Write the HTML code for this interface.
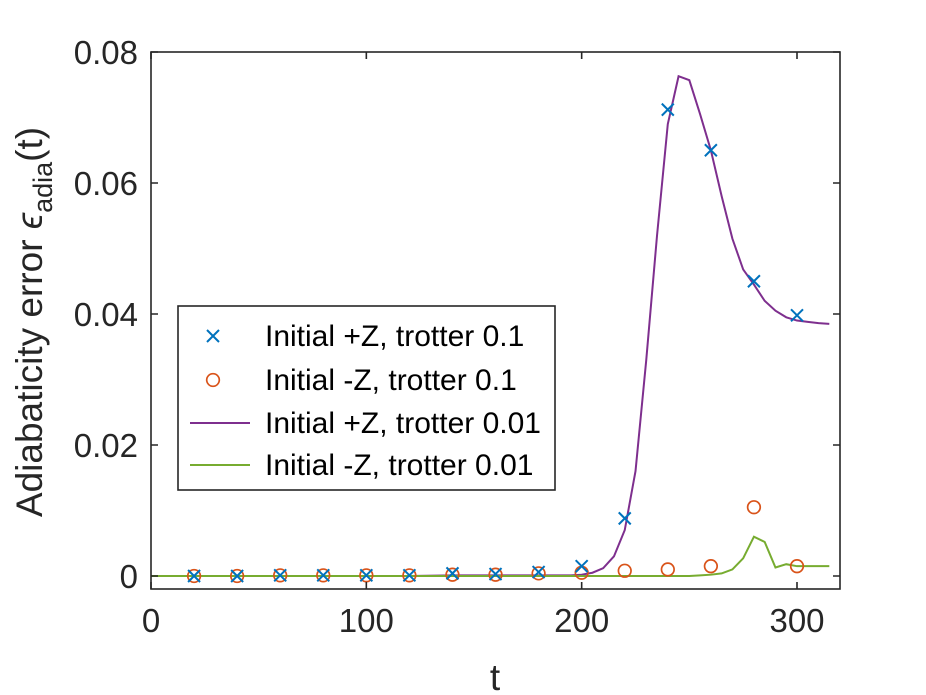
<!DOCTYPE html>
<html><head><meta charset="utf-8"><style>
html,body{margin:0;padding:0;background:#fff;}
svg{display:block;font-family:"Liberation Sans",sans-serif;}
</style></head><body>
<svg id="chart" width="926" height="695" viewBox="0 0 926 695">
<rect width="926" height="695" fill="#fff"/>
<g id="plot"></g>
<g id="axes"></g>
</svg>
<script>
const xTicks=[0,100,200,300];
const yTicks=[0,0.02,0.04,0.06,0.08];
const yTickLabels=["0","0.02","0.04","0.06","0.08"];
const markerT=[20,40,60,80,100,120,140,160,180,200,220,240,260,280,300];
const plusZ01=[0,0,0.0001,0.0001,0.0001,0.0001,0.0004,0.0003,0.0006,0.0015,0.0088,0.0712,0.065,0.045,0.0398];
const minusZ01=[0,0,0.0001,0.0001,0.0001,0.0001,0.0002,0.0002,0.0004,0.0005,0.0008,0.001,0.0015,0.0105,0.0015];
const lineT=[0,20,40,60,80,100,120,140,160,180,195,200,205,210,215,220,225,230,235,240,245,250,255,260,265,270,275,280,285,290,295,300,305,310,315];
const plusZ001=[0,0,0,0,0,0,0,0.0001,0.0001,0.0001,0.0001,0.0002,0.0005,0.0012,0.003,0.007,0.016,0.033,0.052,0.069,0.0763,0.0757,0.0705,0.065,0.058,0.0515,0.0468,0.0445,0.042,0.0405,0.0395,0.039,0.0388,0.0386,0.0385];
const minusZ001=[0,0,0,0,0,0,0,0,0,0,0,0,0,0,0,0,0,0,0,0,0,0,0.0001,0.0002,0.0004,0.001,0.0027,0.006,0.0052,0.0013,0.0018,0.0015,0.0015,0.0015,0.0015];

const L=151,R=840,T=52,B=589;
const x=v=>L+(v-0)*(797-L)/300;
const y=v=>576-v*131/0.02;
const NS="http://www.w3.org/2000/svg";
function mk(tag,attrs,parent){const e=document.createElementNS(NS,tag);for(const k in attrs)e.setAttribute(k,attrs[k]);parent.appendChild(e);return e;}
const plot=document.getElementById('plot'), axes=document.getElementById('axes');

let p1=mk('polyline',{points:lineT.map((t,i)=>x(t)+','+y(plusZ001[i])).join(' '),fill:'none',stroke:'#7E2F8E','stroke-width':2},plot);


let p2=mk('polyline',{points:lineT.map((t,i)=>x(t)+','+y(minusZ001[i])).join(' '),fill:'none',stroke:'#77AC30','stroke-width':2},plot);


markerT.forEach((t,i)=>{
  const cx=x(t),cy=y(minusZ01[i]);
  const c=mk('circle',{cx:cx,cy:cy,r:6.3,fill:'none',stroke:'#D95319','stroke-width':1.7},plot);
  
  
});
markerT.forEach((t,i)=>{
  const cx=x(t),cy=y(plusZ01[i]),s=6;
  const g=mk('path',{d:`M${cx-s},${cy-s}L${cx+s},${cy+s}M${cx-s},${cy+s}L${cx+s},${cy-s}`,stroke:'#0072BD','stroke-width':2,fill:'none'},plot);
  
  
});

const box=mk('rect',{x:L,y:T,width:R-L,height:B-T,fill:'none',stroke:'#262626','stroke-width':1.6},axes);


xTicks.forEach(t=>{
  const X=x(t);
  mk('path',{d:`M${X},${B}V${B-7}M${X},${T}V${T+7}`,stroke:'#262626','stroke-width':1.6},axes);
  const tx=mk('text',{x:X,y:B+43,'text-anchor':'middle','font-size':33,fill:'#262626'},axes);
  tx.textContent=t;
  
  
});
yTicks.forEach((v,i)=>{
  const Y=y(v);
  mk('path',{d:`M${L},${Y}H${L+7}M${R},${Y}H${R-7}`,stroke:'#262626','stroke-width':1.6},axes);
  const tx=mk('text',{x:L-13,y:Y+12,'text-anchor':'end','font-size':33,fill:'#262626'},axes);
  tx.textContent=yTickLabels[i];
  
  
});
</script>
<svg style="position:absolute;left:0;top:0" width="926" height="695">
<text x="495" y="690" text-anchor="middle" font-size="37" fill="#262626" font-family="Liberation Sans,sans-serif">t</text>
<text transform="translate(42,322) rotate(-90)" text-anchor="middle" font-size="37" fill="#262626" font-family="Liberation Sans,sans-serif">Adiabaticity error <tspan font-style="italic">ϵ</tspan><tspan font-size="27" dy="10">adia</tspan><tspan dy="-10">(t)</tspan></text>
<g font-family="Liberation Sans,sans-serif" font-size="30" fill="#000">
<rect x="178" y="306" width="377" height="184" fill="#fff" stroke="#262626" stroke-width="1.6"/>
<g>
<path d="M207,330L219,342M207,342L219,330" stroke="#0072BD" stroke-width="2"/>
<text x="265" y="346">Initial +Z, trotter 0.1</text></g>
<g>
<circle cx="213" cy="380" r="6.3" fill="none" stroke="#D95319" stroke-width="1.7"/>
<text x="265" y="390">Initial -Z, trotter 0.1</text></g>
<g>
<path d="M190,423H250" stroke="#7E2F8E" stroke-width="2"/>
<text x="265" y="433">Initial +Z, trotter 0.01</text></g>
<g>
<path d="M190,465H250" stroke="#77AC30" stroke-width="2"/>
<text x="265" y="475">Initial -Z, trotter 0.01</text></g>
</g>
</svg>
</body></html>
